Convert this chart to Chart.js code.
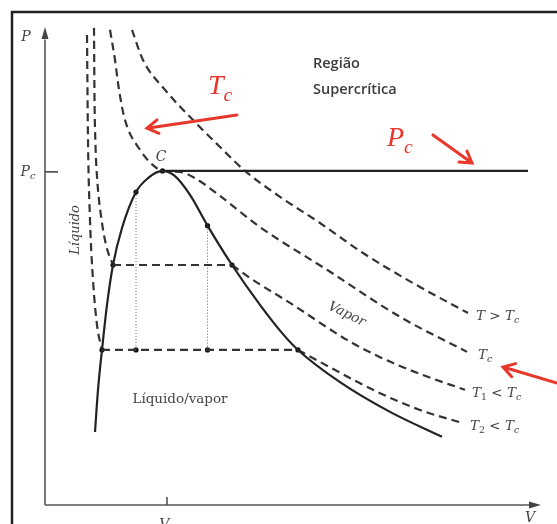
<!DOCTYPE html>
<html lang="pt">
<head>
<meta charset="utf-8">
<title>Diagrama P-V</title>
<script src="https://cdn.jsdelivr.net/npm/chart.js@4.4.1/dist/chart.umd.min.js"></script>
<style>
  html, body { margin: 0; padding: 0; background: #fff; }
  canvas { display: block; }
</style>
</head>
<body>
<canvas id="graficoPV" width="557" height="524"></canvas>
<script>
// pontos: [V, P] em unidades arbitrarias (0 a 100)
const domo = [[10.0,15.2],[10.6,24.0],[11.4,32.3],[12.4,41.7],[13.6,50.0],[15.4,57.7],[18.2,65.2],[20.6,68.1],[23.5,69.6],
              [26.0,68.5],[29.0,64.6],[32.5,58.2],[37.4,50.0],[43.0,41.7],[47.6,35.6],[50.6,32.3],[59.0,25.6],[69.0,19.4],[79.4,14.2]];
const linhaPc = [[23.5,69.6],[96.6,69.6]];

const isoAcima = [[17.4,99.0],[19.6,92.7],[24.0,86.5],[29.6,80.2],[34.6,75.0],[40.0,69.6],[47.0,64.2],[55.0,58.75],[63.6,52.5],[74.0,46.0],[84.6,40.0]];
const isoCritica = [[13.0,99.0],[14.0,92.7],[14.8,86.5],[16.0,80.2],[19.0,74.0],[21.6,70.8],[23.5,69.6],[27.0,69.4],[30.0,68.1],[35.0,64.4],[43.0,57.9],[56.4,49.0],[71.0,39.2],[84.4,31.9]];

const iso1Esq = [[9.8,99.4],[9.9,85.0],[10.1,75.0],[10.5,67.0],[11.1,61.0],[12.2,54.2],[13.6,50.0]];
const iso1Meio = [[13.6,50.0],[37.4,50.0]];
const iso1Dir = [[37.4,50.0],[41.0,47.3],[49.0,42.1],[60.4,34.4],[67.0,30.8],[75.0,27.3],[84.0,24.0]];

const iso2Esq = [[8.4,97.9],[8.6,76.0],[9.0,59.4],[9.6,46.9],[10.4,37.5],[11.4,32.3]];
const iso2Meio = [[11.4,32.3],[50.6,32.3]];
const iso2Dir = [[50.6,32.3],[55.0,29.8],[67.0,23.3],[75.0,19.8],[83.4,17.1]];

const pontilhado1 = [[18.2,65.2],[18.2,32.3]];
const pontilhado2 = [[32.5,58.2],[32.5,32.3]];
const pontos = [[23.5,69.6],[18.2,65.2],[32.5,58.2],[18.2,32.3],[32.5,32.3],[11.4,32.3],[13.6,50.0],[37.4,50.0],[50.6,32.3]];

const Vc = 24.4;
const Pc = 69.4;

const xy = arr => arr.map(p => ({ x: p[0], y: p[1] }));

function tracejada(dados, suave) {
  return { data: xy(dados), showLine: true, borderColor: '#333', borderWidth: 2.2,
           borderDash: [8, 5], cubicInterpolationMode: suave ? 'monotone' : 'default',
           tension: 0, pointRadius: 0, fill: false };
}

function cheia(dados, suave, largura) {
  return { data: xy(dados), showLine: true, borderColor: '#222', borderWidth: largura,
           cubicInterpolationMode: suave ? 'monotone' : 'default',
           tension: 0, pointRadius: 0, fill: false };
}

// escreve texto com partes italicas e subscritos
function texto(ctx, partes, x, y, tam, familia, cor, alinhar, peso) {
  const fonte = (p) => {
    const t = p[1].indexOf('s') >= 0 ? tam * 0.7 : tam;
    const it = p[1].indexOf('i') >= 0 ? 'italic ' : '';
    return it + (peso || 'normal') + ' ' + t + 'px ' + familia;
  };
  let total = 0;
  partes.forEach(p => { ctx.font = fonte(p); total += ctx.measureText(p[0]).width; });
  let cx = alinhar === 'center' ? x - total / 2 : x;
  ctx.fillStyle = cor;
  ctx.textBaseline = 'alphabetic';
  ctx.textAlign = 'left';
  partes.forEach(p => {
    ctx.font = fonte(p);
    const dy = p[1].indexOf('s') >= 0 ? tam * 0.25 : 0;
    ctx.fillText(p[0], cx, y + dy);
    cx += ctx.measureText(p[0]).width;
  });
}

function seta(ctx, x1, y1, x2, y2) {
  const ang = Math.atan2(y2 - y1, x2 - x1);
  ctx.strokeStyle = '#e8382c';
  ctx.lineWidth = 3;
  ctx.lineCap = 'round';
  ctx.beginPath();
  ctx.moveTo(x1, y1);
  ctx.lineTo(x2, y2);
  ctx.moveTo(x2 - 13 * Math.cos(ang - 0.55), y2 - 13 * Math.sin(ang - 0.55));
  ctx.lineTo(x2, y2);
  ctx.lineTo(x2 - 13 * Math.cos(ang + 0.55), y2 - 13 * Math.sin(ang + 0.55));
  ctx.stroke();
}

const desenho = {
  id: 'desenho',
  beforeDatasetsDraw(chart) {
    const ctx = chart.ctx;
    const sx = chart.scales.x, sy = chart.scales.y;
    const px = v => sx.getPixelForValue(v), py = p => sy.getPixelForValue(p);
    ctx.save();
    // moldura
    ctx.strokeStyle = '#222';
    ctx.lineWidth = 2.5;
    ctx.beginPath();
    ctx.moveTo(12, 530);
    ctx.lineTo(12, 12);
    ctx.lineTo(560, 12);
    ctx.stroke();
    // eixos
    ctx.strokeStyle = '#555';
    ctx.fillStyle = '#444';
    ctx.lineWidth = 1.6;
    ctx.beginPath();
    ctx.moveTo(px(0), py(0));
    ctx.lineTo(px(0), py(97));
    ctx.moveTo(px(0), py(0));
    ctx.lineTo(px(97.5), py(0));
    ctx.stroke();
    ctx.beginPath();
    ctx.moveTo(px(0), py(99.6));
    ctx.lineTo(px(0) - 3.5, py(99.6) + 12);
    ctx.lineTo(px(0) + 3.5, py(99.6) + 12);
    ctx.closePath();
    ctx.fill();
    ctx.beginPath();
    ctx.moveTo(px(99.2), py(0));
    ctx.lineTo(px(99.2) - 12, py(0) - 3.5);
    ctx.lineTo(px(99.2) - 12, py(0) + 3.5);
    ctx.closePath();
    ctx.fill();
    // marcas Pc e Vc
    ctx.beginPath();
    ctx.moveTo(px(0), py(Pc));
    ctx.lineTo(px(0) + 13, py(Pc));
    ctx.moveTo(px(Vc), py(0));
    ctx.lineTo(px(Vc), py(0) - 8);
    ctx.stroke();
    ctx.restore();
  },
  afterDatasetsDraw(chart) {
    const ctx = chart.ctx;
    const sx = chart.scales.x, sy = chart.scales.y;
    const px = v => sx.getPixelForValue(v), py = p => sy.getPixelForValue(p);
    const serif = '"DejaVu Serif", serif';
    const cinza = '#444';
    ctx.save();
    texto(ctx, [['P', 'i']], px(-3.8), py(97.7) + 5, 14, serif, cinza, 'center');
    texto(ctx, [['P', 'i'], ['c', 'si']], px(-3.4), py(Pc) + 4, 14, serif, cinza, 'center');
    texto(ctx, [['C', 'i']], px(23.2), py(72.7) + 5, 14, serif, cinza, 'center');
    texto(ctx, [['V', 'i']], px(97), py(-2.5) + 5, 14, serif, cinza, 'center');
    texto(ctx, [['V', 'i'], ['c', 'si']], px(Vc), py(-4) + 5, 14, serif, cinza, 'center');
    texto(ctx, [['Líquido/vapor', '']], px(27), py(22.3) + 5, 13.5, serif, cinza, 'center');

    ctx.save();
    ctx.translate(px(6), py(57.3));
    ctx.rotate(-Math.PI / 2);
    texto(ctx, [['Líquido', 'i']], 0, 4, 13, serif, cinza, 'center');
    ctx.restore();

    ctx.save();
    ctx.translate(px(60.4), py(39.8));
    ctx.rotate(0.45);
    texto(ctx, [['Vapor', 'i']], 0, 4, 13.5, serif, cinza, 'center');
    ctx.restore();

    const fim = arr => arr[arr.length - 1];
    const rot = (arr, partes, dx) => texto(ctx, partes, px(fim(arr)[0]) + dx, py(fim(arr)[1]) + 7, 13.5, serif, cinza, 'left');
    rot(isoAcima, [['T', 'i'], [' > ', ''], ['T', 'i'], ['c', 'si']], 8);
    rot(isoCritica, [['T', 'i'], ['c', 'si']], 11);
    rot(iso1Dir, [['T', 'i'], ['1', 's'], [' < ', ''], ['T', 'i'], ['c', 'si']], 7);
    rot(iso2Dir, [['T', 'i'], ['2', 's'], [' < ', ''], ['T', 'i'], ['c', 'si']], 8);

    const sans = '"Open Sans", sans-serif';
    texto(ctx, [['Região', '']], px(53.6), py(92.1) + 5, 14.5, sans, '#3c3c3c', 'left', '600');
    texto(ctx, [['Supercrítica', '']], px(53.6), py(86.7) + 5, 14.5, sans, '#3c3c3c', 'left', '600');

    const vermelho = '#e8382c';
    const mat = '"Liberation Serif", serif';
    texto(ctx, [['T', 'i'], ['c', 'si']], px(32.6), py(85.6), 28, mat, vermelho, 'left');
    texto(ctx, [['P', 'i'], ['c', 'si']], px(68.4), py(74.8), 28, mat, vermelho, 'left');
    seta(ctx, px(38.4), py(81.25), px(20.4), py(78.5));
    seta(ctx, px(77.6), py(77.1), px(85.4), py(71.25));
    seta(ctx, px(102.4), py(25.4), px(91.6), py(28.75));
    ctx.restore();
  }
};

new Chart(document.getElementById('graficoPV'), {
  type: 'scatter',
  data: {
    datasets: [
      cheia(domo, true, 2.2),
      cheia(linhaPc, false, 2.4),
      tracejada(isoAcima, true),
      tracejada(isoCritica, true),
      tracejada(iso1Esq, true),
      tracejada(iso1Meio, false),
      tracejada(iso1Dir, true),
      tracejada(iso2Esq, true),
      tracejada(iso2Meio, false),
      tracejada(iso2Dir, true),
      { data: xy(pontilhado1), showLine: true, borderColor: '#666', borderWidth: 1, borderDash: [1, 2], pointRadius: 0 },
      { data: xy(pontilhado2), showLine: true, borderColor: '#666', borderWidth: 1, borderDash: [1, 2], pointRadius: 0 },
      { data: xy(pontos), showLine: false, pointRadius: 2.6, pointBackgroundColor: '#111', pointBorderWidth: 0 }
    ]
  },
  options: {
    responsive: false,
    animation: false,
    layout: { padding: { left: 45, right: 12, top: 25, bottom: 19 } },
    scales: {
      x: { type: 'linear', min: 0, max: 100, display: false },
      y: { type: 'linear', min: 0, max: 100, display: false }
    },
    plugins: { legend: { display: false }, tooltip: { enabled: false } }
  },
  plugins: [desenho]
});
</script>
</body>
</html>
